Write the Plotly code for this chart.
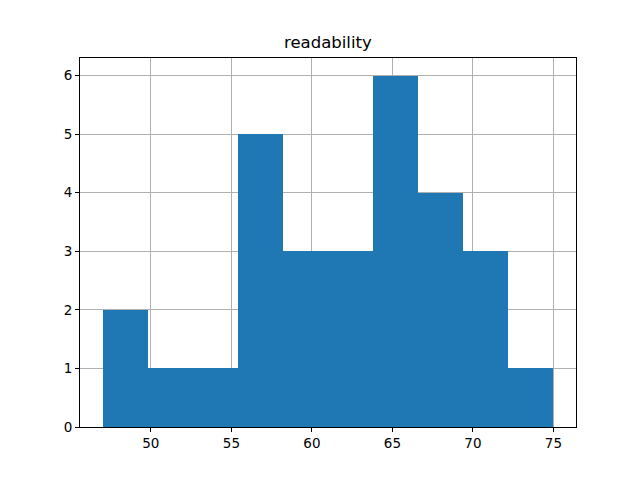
import plotly.graph_objects as go

bin_edges = [47.0, 49.8, 52.6, 55.4, 58.2, 61.0, 63.8, 66.6, 69.4, 72.2, 75.0]
counts = [2, 1, 1, 5, 3, 3, 6, 4, 3, 1]
x_ticks = [50, 55, 60, 65, 70, 75]
y_ticks = [0, 1, 2, 3, 4, 5, 6]
title = "readability"

centers = [(a + b) / 2 for a, b in zip(bin_edges[:-1], bin_edges[1:])]
widths = [b - a for a, b in zip(bin_edges[:-1], bin_edges[1:])]

fig = go.Figure(go.Bar(x=centers, y=counts, width=widths,
                       marker=dict(color="#1f77b4", line=dict(width=0))))

span = bin_edges[-1] - bin_edges[0]
axis_common = dict(showline=True, linecolor="black", linewidth=1, mirror=True,
                   ticks="outside", ticklen=4, tickcolor="black",
                   showgrid=True, gridcolor="#b0b0b0", gridwidth=1,
                   zeroline=False, layer="above traces",
                   tickfont=dict(family="DejaVu Sans", size=13.5, color="black"))

fig.update_layout(
    width=640, height=480,
    margin=dict(l=80, r=64, t=58, b=53),
    plot_bgcolor="white", paper_bgcolor="white",
    showlegend=False, bargap=0,
    xaxis=dict(range=[bin_edges[0] - 0.05 * span, bin_edges[-1] + 0.05 * span],
               tickvals=x_ticks, **axis_common),
    yaxis=dict(range=[0, max(counts) * 1.05], tickvals=y_ticks, **axis_common),
    annotations=[dict(text=title, x=0.5, y=1, xref="paper", yref="paper",
                      xanchor="center", yanchor="bottom", yshift=4, showarrow=False,
                      font=dict(family="DejaVu Sans", size=16.5, color="black"))],
)

fig.write_html("out.html", config={"displayModeBar": False},
               post_script="document.body.style.margin='0';")
